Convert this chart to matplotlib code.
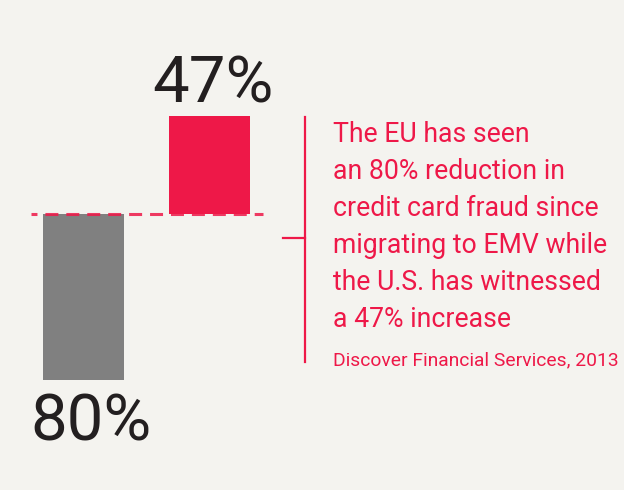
import matplotlib
matplotlib.use("Agg")
import matplotlib.pyplot as plt

# data
regions = ["EU", "U.S."]
changes = [-80, 47]
labels = ["80%", "47%"]
bar_colors = ["#808080", "#ee1848"]
note_lines = [
    "The EU has seen",
    "an 80% reduction in",
    "credit card fraud since",
    "migrating to EMV while",
    "the U.S. has witnessed",
    "a 47% increase",
]
source = "Discover Financial Services, 2013"

bg = "#f4f3ef"
red = "#ee1848"
dark = "#231f20"
W, H = 624, 490
plt.rcParams["font.family"] = ["Roboto", "DejaVu Sans"]

fig = plt.figure(figsize=(W / 100, H / 100), dpi=100, facecolor=bg)
ax = fig.add_axes([0, 0, 1, 1])
ax.set_facecolor(bg)
ax.axis("off")

# scale: 126 px between bars, 2.08 px per percentage point, baseline at y=214 px from top
step, ppu, base_px, x0_px = 126, 2.08, 214, 83.5
ax.set_xlim(-x0_px / step, (W - x0_px) / step)
ax.set_ylim(-(H - base_px) / ppu, base_px / ppu)

xs = list(range(len(regions)))
ax.bar(xs, changes, width=81 / step, color=bar_colors, zorder=2)

# dashed baseline
lw = 2.2
ax.plot([(31 - x0_px) / step, (263 - x0_px) / step], [0, 0], color=red,
        lw=lw, linestyle=(2.3, (4.25, 2.6)), alpha=0.85, zorder=3)

# big value labels (baseline placed a fixed gap from the bar end)
for x, v, lab in zip(xs, changes, labels):
    gap = 14 if v > 0 else -60
    shift = 0.03 if v > 0 else 0.06
    ax.text(x + shift, v + gap / ppu, lab, ha="center", va="baseline",
            fontsize=47, color=dark)

def fx(px):
    return px / W

def fy(py):
    return 1 - py / H

# bracket
fig.add_artist(plt.Line2D([fx(305), fx(305)], [fy(117), fy(362)], color=red, lw=1.6))
fig.add_artist(plt.Line2D([fx(283), fx(305)], [fy(238), fy(238)], color=red, lw=1.6))

# note text
for i, line in enumerate(note_lines):
    fig.text(fx(333), fy(142 + 37 * i), line, color=red, fontsize=19.2,
             ha="left", va="baseline")
fig.text(fx(333), fy(365), source, color=red, fontsize=13.9, ha="left", va="baseline")

fig.savefig("out.png", dpi=100, facecolor=bg)
